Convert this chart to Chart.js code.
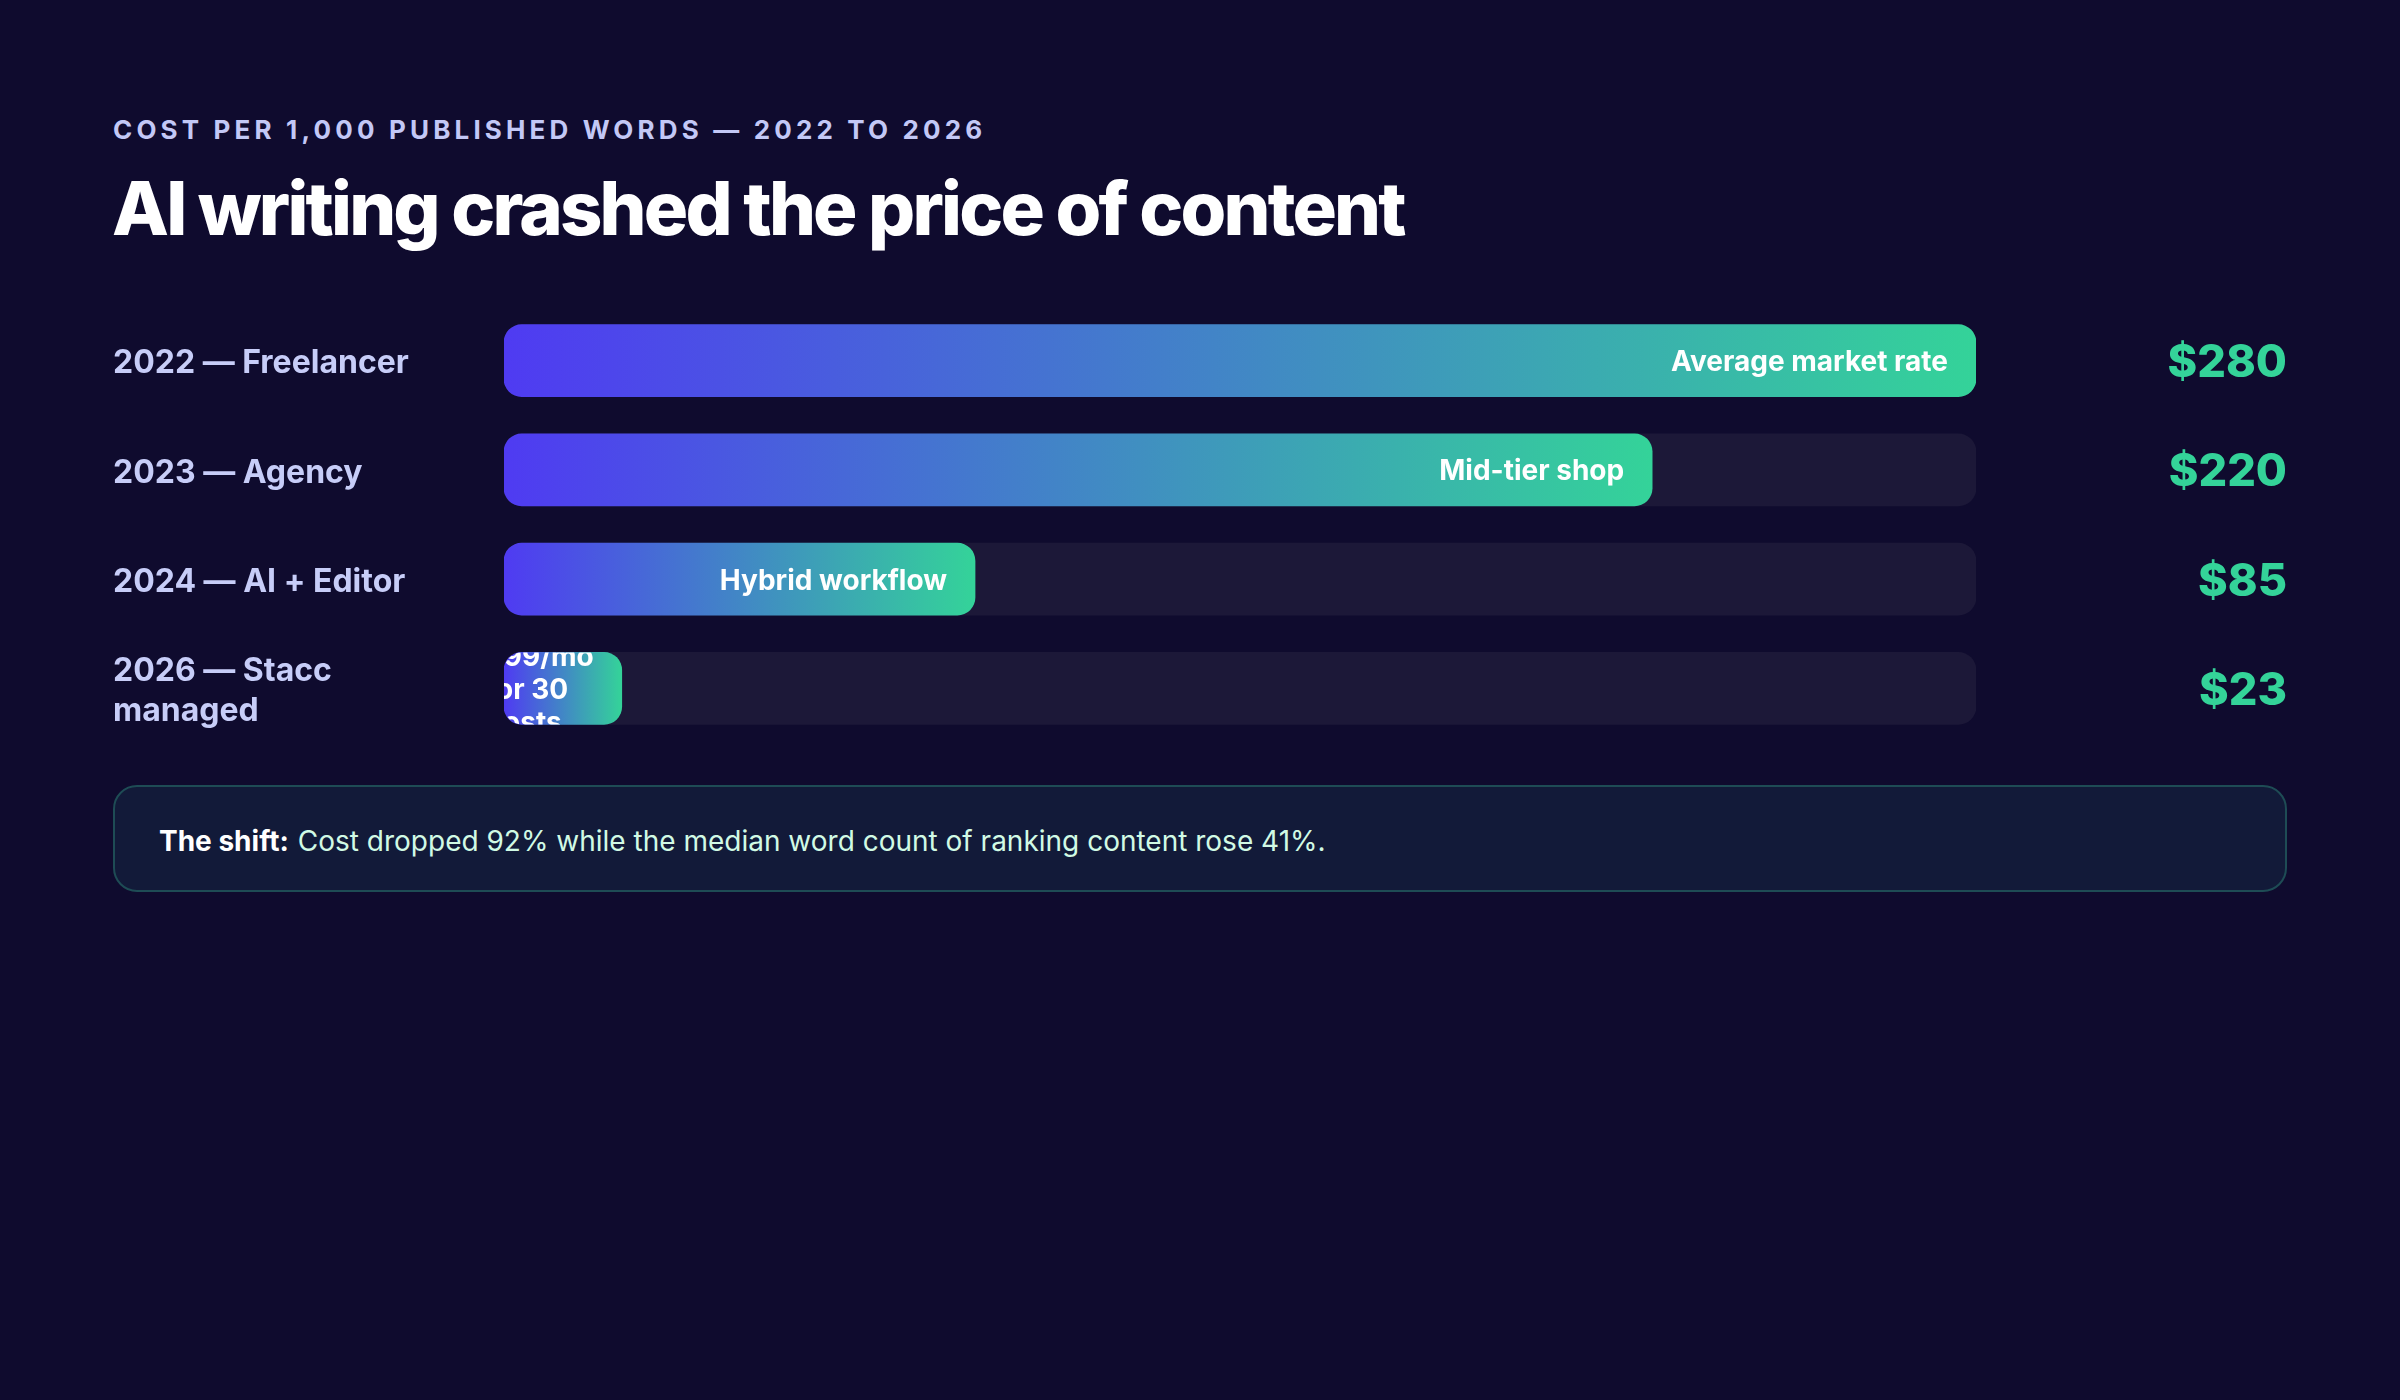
<!DOCTYPE html>
<html>
<head>
<meta charset="utf-8">
<script src="https://cdn.jsdelivr.net/npm/chart.js@4.4.1/dist/chart.umd.min.js"></script>
<style>
  html, body { margin: 0; padding: 0; }
  body { width: 2400px; height: 1400px; background: #0f0b2e; position: relative; overflow: hidden; font-family: Inter, "Noto Sans", sans-serif; }
  #kicker { position: absolute; left: 113px; top: 117px; font-size: 26px; line-height: 26px; font-weight: 700; letter-spacing: 0.16em; color: #c3c8f6; white-space: nowrap; }
  #title { position: absolute; left: 112px; top: 171px; font-size: 74px; line-height: 74px; font-weight: 800; letter-spacing: -0.038em; color: #ffffff; white-space: nowrap; }
  #wrap { position: absolute; left: 113px; top: 306px; width: 2174px; height: 437px; }
  #note { position: absolute; left: 113px; top: 785px; width: 2174px; height: 107px; box-sizing: border-box; border: 2px solid #1e4c55; border-radius: 24px; background: #121a39; display: flex; align-items: center; padding-left: 44px; padding-top: 5px; font-size: 28px; color: #d1fae5; white-space: nowrap; }
  #note b { color: #ffffff; font-weight: 700; margin-right: 9px; }
</style>
</head>
<body>
<div id="kicker">COST PER 1,000 PUBLISHED WORDS — 2022 TO 2026</div>
<div id="title">AI writing crashed the price of content</div>
<div id="wrap"><canvas id="c"></canvas></div>
<div id="note"><b>The shift:</b>Cost dropped 92% while the median word count of ranking content rose 41%.</div>
<script>
// ---- data ----
const categories = [["2022 — Freelancer"], ["2023 — Agency"], ["2024 — AI + Editor"], ["2026 — Stacc", "managed"]];
const priceLabels = ["$280", "$220", "$85", "$23"];
const barShare = [100, 78, 32, 8];          // bar length, % of the 2022 track
const barNotes = ["Average market rate", "Mid-tier shop", "Hybrid workflow", "$99/mo for 30 posts"];
const trackFull = [100, 100, 100, 100];

const GRAD_A = '#4f3bf2';
const GRAD_B = '#34d399';

const barLabelPlugin = {
  id: 'barLabels',
  afterDatasetsDraw(chart) {
    const ctx = chart.ctx;
    const meta = chart.getDatasetMeta(0);
    ctx.save();
    ctx.font = '700 28px Inter';
    ctx.fillStyle = '#ffffff';
    ctx.textBaseline = 'middle';
    meta.data.forEach((el, i) => {
      const p = el.getProps(['x', 'y', 'base', 'height'], true);
      const left = p.base, right = p.x, top = p.y - p.height / 2, h = p.height;
      ctx.save();
      ctx.beginPath();
      ctx.roundRect(left, top, right - left, h, 18);
      ctx.clip();
      const words = barNotes[i].split(' ');
      const widestWord = Math.max(...words.map(w => ctx.measureText(w).width));
      const boxW = Math.max((right - left) - 56, widestWord);
      const lines = [];
      let cur = '';
      words.forEach(w => {
        const t = cur ? cur + ' ' + w : w;
        if (cur && ctx.measureText(t).width > boxW) { lines.push(cur); cur = w; }
        else cur = t;
      });
      if (cur) lines.push(cur);
      const lh = 33;
      const widest = Math.max(...lines.map(l => ctx.measureText(l).width));
      const x0 = right - 28 - (lines.length > 1 ? boxW : widest);
      ctx.textAlign = 'left';
      lines.forEach((l, k) => {
        const y = p.y + (k - (lines.length - 1) / 2) * lh + 2;
        ctx.fillText(l, x0, y);
      });
      ctx.restore();
    });
    ctx.restore();
  }
};

function noPad(s, w) {
  s.width = w;
  s.paddingTop = 0;
  s.paddingBottom = 0;
}

new Chart(document.getElementById('c'), {
  type: 'bar',
  data: {
    labels: categories,
    datasets: [
      {
        data: barShare,
        order: 1,
        grouped: false,
        barThickness: 72,
        borderRadius: 18,
        borderSkipped: false,
        backgroundColor: (c) => {
          const chart = c.chart;
          if (!chart.chartArea || c.type !== 'data') return GRAD_A;
          const xs = chart.scales.x;
          const x0 = xs.getPixelForValue(0), x1 = xs.getPixelForValue(c.raw);
          const g = chart.ctx.createLinearGradient(x0, 0, x1, 0);
          g.addColorStop(0, GRAD_A);
          g.addColorStop(1, GRAD_B);
          return g;
        }
      },
      {
        data: trackFull,
        order: 2,
        grouped: false,
        barThickness: 72,
        borderRadius: 18,
        borderSkipped: false,
        backgroundColor: '#1c1838'
      }
    ]
  },
  options: {
    indexAxis: 'y',
    responsive: true,
    maintainAspectRatio: false,
    animation: false,
    events: [],
    layout: { padding: 0 },
    plugins: { legend: { display: false }, tooltip: { enabled: false }, title: { display: false } },
    scales: {
      x: { display: false, min: 0, max: 100 },
      y: {
        position: 'left',
        offset: true,
        grid: { display: false },
        border: { display: false },
        ticks: { crossAlign: 'far', color: '#c7cdf8', padding: 0, labelOffset: 3, font: { family: 'Inter', size: 32, weight: '700', lineHeight: 1.25 } },
        afterFit(s) { noPad(s, 391); }
      },
      y2: {
        type: 'category',
        labels: priceLabels,
        position: 'right',
        offset: true,
        grid: { display: false },
        border: { display: false },
        ticks: { crossAlign: 'far', color: '#34d399', padding: 0, labelOffset: 3, font: { family: 'Inter', size: 45, weight: '800' } },
        afterFit(s) { noPad(s, 311); }
      }
    }
  },
  plugins: [barLabelPlugin]
});
</script>
</body>
</html>
